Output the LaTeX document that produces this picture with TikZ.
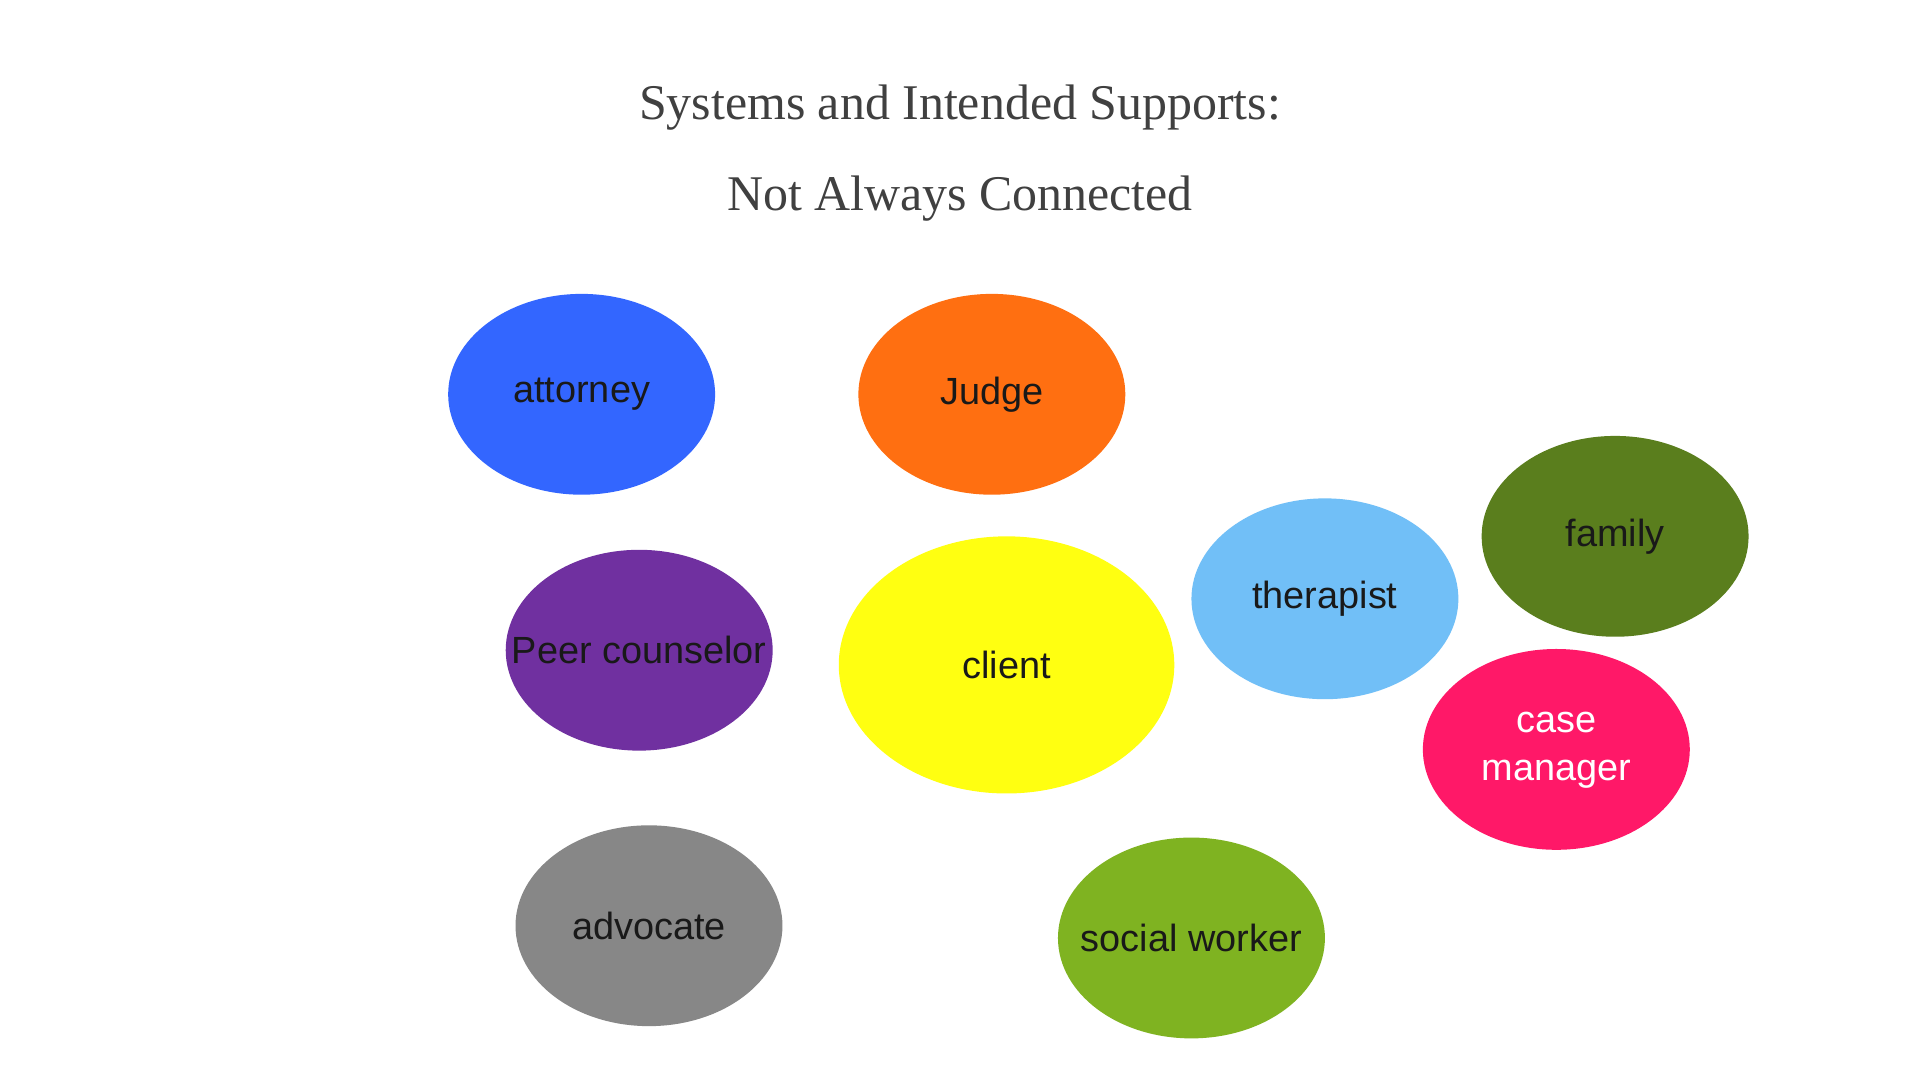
\documentclass[tikz,border=0pt]{standalone}
\usepackage{fontspec}
\setmainfont{Liberation Sans}
\newfontfamily\titlefont{Liberation Serif}
\usetikzlibrary{shapes.geometric}
\begin{document}
\begin{tikzpicture}[x=0.05cm,y=-0.05cm,
  bub/.style={ellipse,inner sep=0pt,font=\fontsize{44}{54}\selectfont,text=black!90},
  ttl/.style={font=\titlefont\fontsize{58}{70}\selectfont,text=black!75}]
\useasboundingbox[fill=white] (0,0) rectangle (1568,882);
\definecolor{cAtt}{HTML}{3366FF}
\definecolor{cJud}{HTML}{FF6F11}
\definecolor{cPeer}{HTML}{7030A0}
\definecolor{cCli}{HTML}{FFFF11}
\definecolor{cThe}{HTML}{71BFF7}
\definecolor{cFam}{HTML}{5A7E1D}
\definecolor{cCase}{HTML}{FF1868}
\definecolor{cAdv}{HTML}{878787}
\definecolor{cSoc}{HTML}{7FB321}
\node[ttl] (t1) at (784,88) {Systems and Intended Supports:};
\node[ttl] (t2) at (784,162) {Not Always Connected};
\fill[cAtt] (475,322) ellipse [x radius=109,y radius=82];
\fill[cJud] (810,322) ellipse [x radius=109,y radius=82];
\fill[cPeer] (522,531) ellipse [x radius=109,y radius=82];
\fill[cCli] (822,543) ellipse [x radius=137,y radius=105];
\fill[cThe] (1082,489) ellipse [x radius=109,y radius=82];
\fill[cFam] (1319,438) ellipse [x radius=109,y radius=82];
\fill[cCase] (1271,612) ellipse [x radius=109,y radius=82];
\fill[cAdv] (530,756) ellipse [x radius=109,y radius=82];
\fill[cSoc] (973,766) ellipse [x radius=109,y radius=82];
\node[bub] (att) at (475,322) {attorney};
\node[bub] (jud) at (810,322) {Judge};
\node[bub] (peer) at (522,531) {Peer counselor};
\node[bub] (cli) at (822,543) {client};
\node[bub] (the) at (1082,489) {therapist};
\node[bub] (fam) at (1319,438) {family};
\node[bub,text=white,align=center,font=\fontsize{44}{56}\selectfont] (case) at (1271,613) {case\\manager};
\node[bub] (adv) at (530,756) {advocate};
\node[bub] (soc) at (973,766) {social worker};
\end{tikzpicture}
\end{document}
